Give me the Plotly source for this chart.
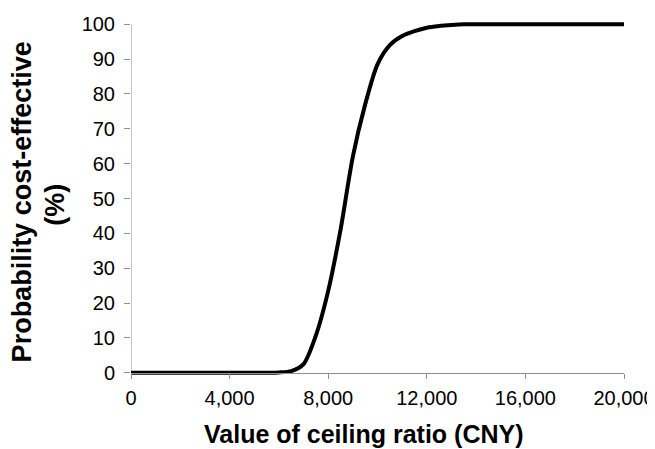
import plotly.graph_objects as go

# Willingness-to-pay (CNY) and probability cost-effective (%)
wtp = [0, 500, 1000, 1500, 2000, 2500, 3000, 3500, 4000, 4500, 5000, 5500,
       6000, 6500, 7000, 7500, 8000, 8500, 9000, 9500, 10000, 10500, 11000,
       11500, 12000, 12500, 13000, 13500, 14000, 15000, 16000, 17000, 18000,
       19000, 20000]
prob = [0, 0, 0, 0, 0, 0, 0, 0, 0, 0, 0, 0,
        0.1, 0.5, 2.5, 10.7, 23.5, 41, 62, 77, 88.5, 94, 96.6,
        98, 99, 99.5, 99.8, 100, 100, 100, 100, 100, 100,
        100, 100]

x_ticks = [0, 4000, 8000, 12000, 16000, 20000]
x_tick_labels = ["0", "4,000", "8,000", "12,000", "16,000", "20,000"]
y_ticks = [0, 10, 20, 30, 40, 50, 60, 70, 80, 90, 100]

AXIS = "#8f8f8f"
FONT = "Liberation Sans, Arial, sans-serif"

fig = go.Figure()
fig.add_trace(go.Scatter(
    x=wtp, y=prob, mode="lines",
    line=dict(color="black", width=4, shape="spline", smoothing=0.8),
    hoverinfo="skip", showlegend=False,
))

# page body has an 8px default margin, so the figure is sized to fit the window
fig.update_layout(
    width=647, height=441,
    margin=dict(l=123, r=31, t=11, b=71),
    paper_bgcolor="white", plot_bgcolor="white",
    font=dict(family=FONT, color="black", size=20),
    xaxis=dict(
        range=[0, 20000], tickvals=x_ticks, ticktext=x_tick_labels,
        ticks="outside", ticklen=5, tickcolor=AXIS, tickwidth=1,
        showline=True, linecolor=AXIS, linewidth=1,
        showgrid=False, zeroline=False, automargin=False,
        anchor="free", position=1.5 / 103,
        ticklabelstandoff=2,
        tickfont=dict(size=20, family=FONT, color="black"),
    ),
    yaxis=dict(
        range=[-1.5, 101.5], tickvals=y_ticks,
        ticks="outside", ticklen=6, tickcolor=AXIS, tickwidth=1,
        showline=False, showgrid=False, zeroline=False, automargin=False,
        ticklabelstandoff=5,
        tickfont=dict(size=20, family=FONT, color="black"),
    ),
    shapes=[dict(type="line", xref="x", yref="y", x0=0, x1=0, y0=0, y1=100,
                 line=dict(color=AXIS, width=1), layer="below")],
    annotations=[
        dict(text="<b>Value of ceiling ratio (CNY)</b>", xref="paper", yref="paper",
             x=0.4736, y=-0.156, xanchor="center", yanchor="middle",
             showarrow=False, font=dict(size=25, family=FONT, color="black")),
        dict(text="<b>Probability cost-effective</b>", xref="paper", yref="paper",
             x=-0.2205, y=0.490, xanchor="center", yanchor="middle", textangle=-90,
             showarrow=False, font=dict(size=27, family=FONT, color="black")),
        dict(text="<b>(%)</b>", xref="paper", yref="paper",
             x=-0.1545, y=0.482, xanchor="center", yanchor="middle", textangle=-90,
             showarrow=False, font=dict(size=27, family=FONT, color="black")),
    ],
)

fig.write_html("out.html")
